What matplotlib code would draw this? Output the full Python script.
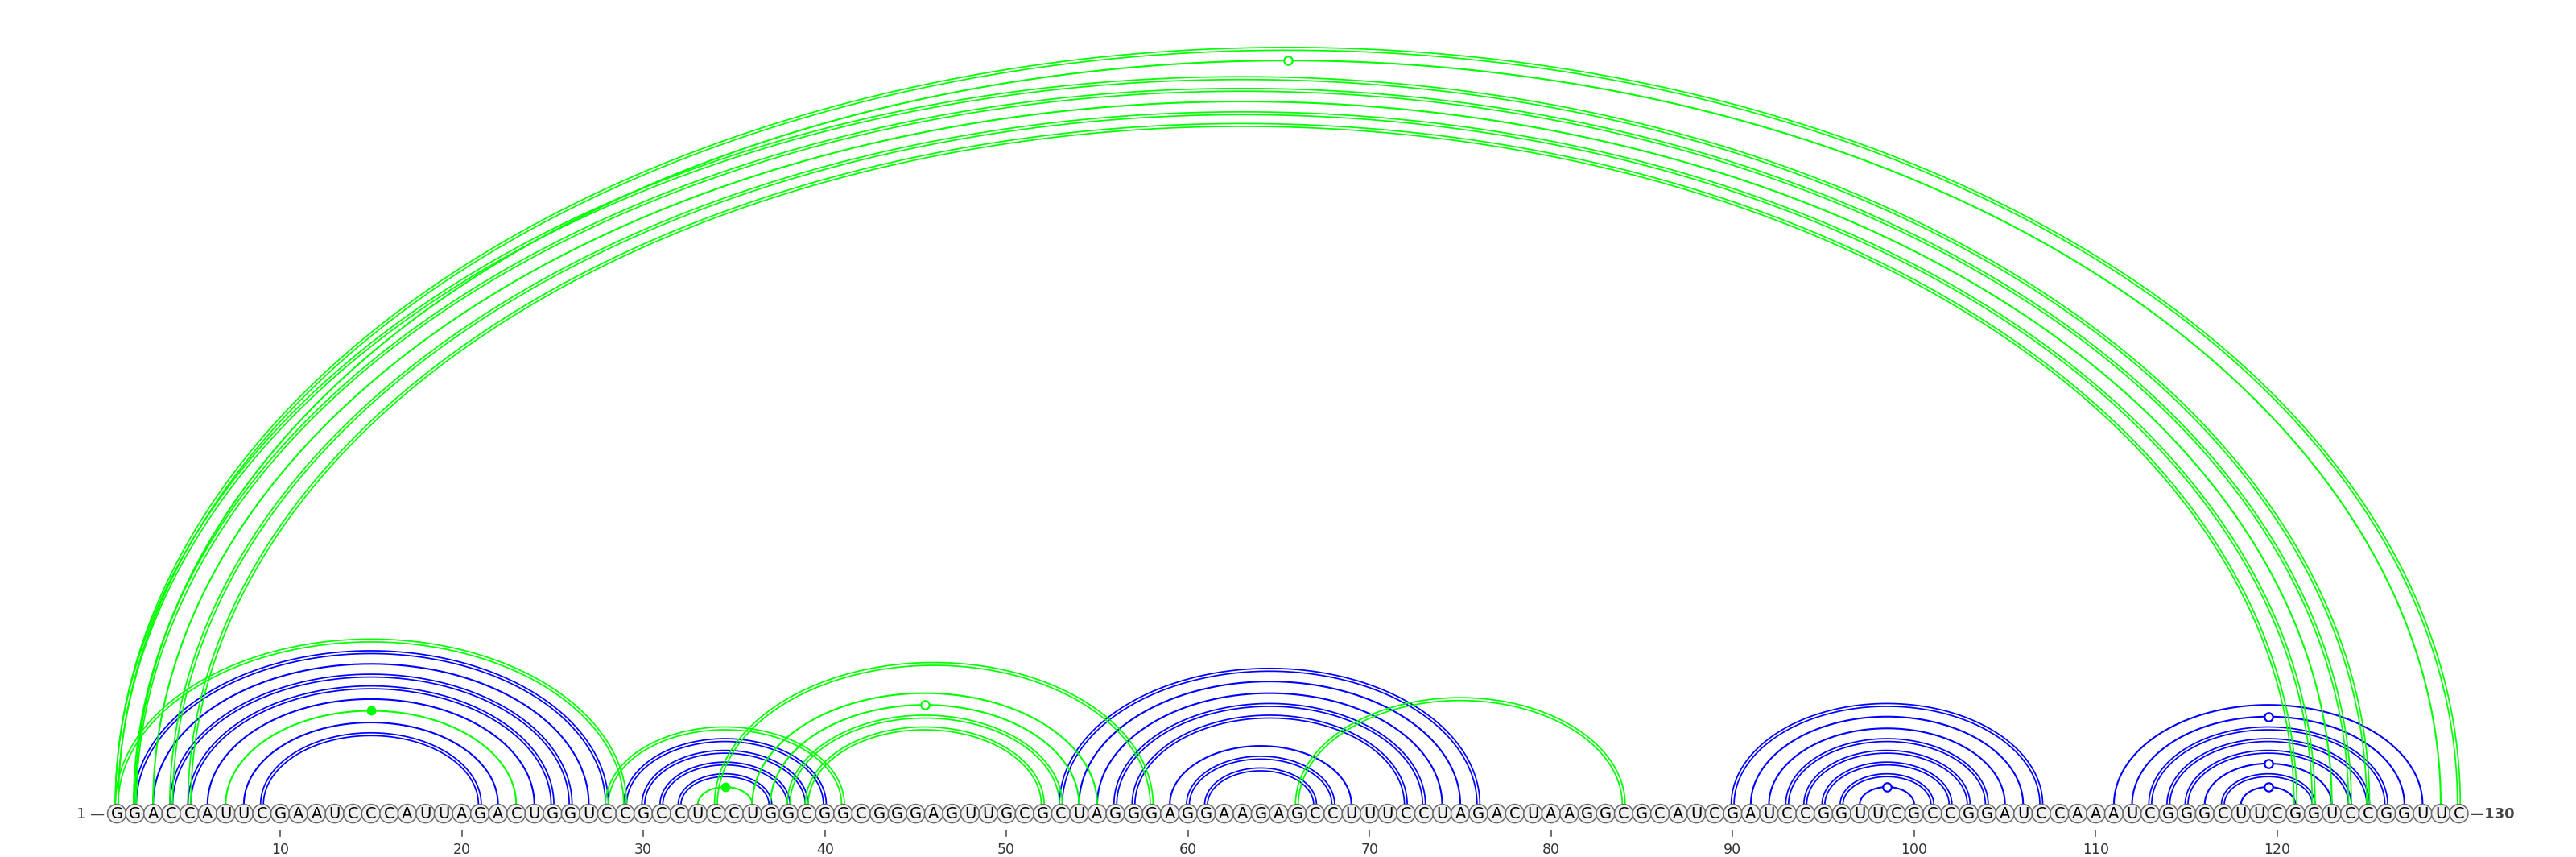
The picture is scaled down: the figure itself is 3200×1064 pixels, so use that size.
import numpy as np
import matplotlib
matplotlib.use("Agg")
import matplotlib.pyplot as plt
from matplotlib.patches import Circle

# sequence and base pairs
sequence = "GGACCAUUCGAAUCCCAUUAGACUGGUCCGCCUCCUGGCGGCGGGAGUUGCGCUAGGGAGGAAGAGCCUUUCCUAGACUAAGGCGCAUCGAUCCGGUUCGCCGGAUCCAAAUCGGGCUUCGGUCCGGUUC"

blue_i = [2, 3, 4, 5, 6, 8, 9,
          29, 30, 31, 32,
          53, 54, 55, 56, 57, 59, 60, 61,
          90, 91, 92, 93, 94, 95, 96, 97,
          111, 112, 113, 114, 115, 116, 117, 118]
blue_j = [28, 27, 26, 25, 24, 22, 21,
          40, 39, 38, 37,
          76, 75, 74, 73, 72, 69, 68, 67,
          107, 106, 105, 104, 103, 102, 101, 100,
          128, 127, 126, 125, 124, 123, 122, 121]

green_i = [1, 2, 1, 2, 3, 4, 5, 1, 7, 28, 33, 34, 36, 37, 38, 39, 66]
green_j = [130, 129, 125, 124, 123, 122, 121, 29, 23, 41, 36, 58, 55, 54, 53, 52, 84]

tick_positions = list(range(10, 121, 10))

BLUE = "#0000ff"
GREEN = "#00ff00"
ratio = 0.645      # arc height / half span
base_y = 0.5       # arcs start at top of the nucleotide circles
r_nt = 0.51

fig = plt.figure(figsize=(32, 10.64), dpi=100)
ax = fig.add_axes([0, 0, 1, 1])
ax.set_xlim(-5.43, 136.45)
ax.set_ylim(-2.39, 44.79)
ax.axis("off")


def pair_kind(a, b):
  p = a + b
  if p in ("GC", "CG"):
    return "double"
  if p in ("AU", "UA"):
    return "single"
  if p in ("GU", "UG"):
    return "wobble"
  return "noncanon"


t = np.linspace(0, np.pi, 400)


def draw_arcs(I, J, color, z):
  for i, j in zip(I, J):
    c = (i + j) / 2
    hw = (j - i) / 2
    kind = pair_kind(sequence[i - 1], sequence[j - 1])
    if kind == "double":
      for d in (-0.078, 0.078):
        ax.plot(c + (hw + d) * np.cos(t), base_y + (ratio * hw + d) * np.sin(t),
                color=color, lw=1.25, zorder=z, solid_capstyle="butt")
    else:
      ax.plot(c + hw * np.cos(t), base_y + ratio * hw * np.sin(t),
              color=color, lw=1.5, zorder=z, solid_capstyle="butt")
      top = base_y + ratio * hw
      if kind == "wobble":
        ax.plot(c, top, "o", ms=7.5, mfc="white", mec=color, mew=1.6, zorder=z + 2)
      elif kind == "noncanon":
        ax.plot(c, top, "o", ms=7.5, mfc=color, mec=color, mew=1.0, zorder=z + 2)


draw_arcs(blue_i, blue_j, BLUE, 2)
draw_arcs(green_i, green_j, GREEN, 3)

# nucleotides
for k, nt in enumerate(sequence, start=1):
  ax.add_patch(Circle((k, 0), r_nt, facecolor="#f0f0f0", edgecolor="#6a6a6a",
                      lw=1.1, zorder=6))
  ax.text(k, -0.02, nt, ha="center", va="center", fontsize=14, color="black",
          zorder=7)

# position ticks
for p in tick_positions:
  ax.plot([p, p], [-0.93, -1.24], color="#555555", lw=1.2, zorder=6)
  ax.text(p, -1.98, str(p), ha="center", va="center", fontsize=12.5, color="#333333")

ax.text(0.35, -0.02, "1 \u2014", ha="right", va="center", fontsize=13, color="#444444")
ax.text(len(sequence) + 0.6, -0.02, "\u2014" + str(len(sequence)), ha="left",
        va="center", fontsize=13, color="#444444", fontweight="bold")

fig.savefig("out.png", dpi=100)
